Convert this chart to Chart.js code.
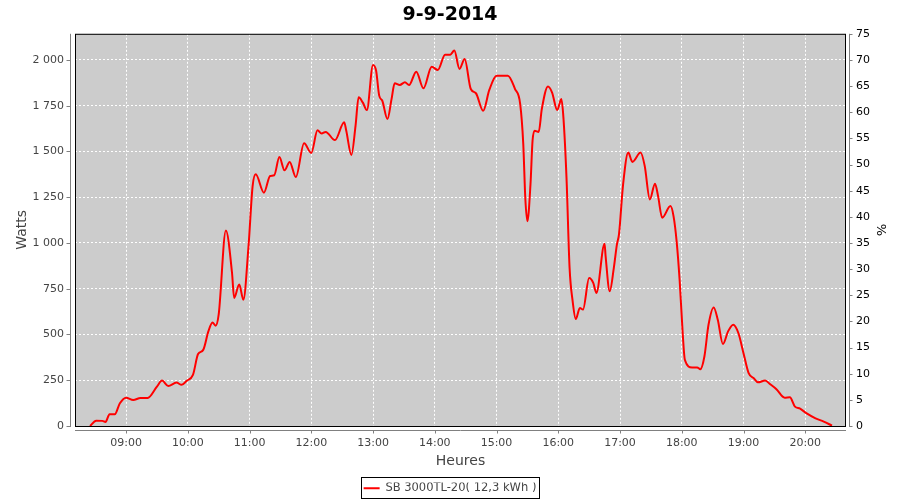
<!DOCTYPE html>
<html>
<head>
<meta charset="utf-8">
<script src="https://cdn.jsdelivr.net/npm/chart.js@4/dist/chart.umd.min.js"></script>
<style>
html, body { margin: 0; padding: 0; background: #fff; }
</style>
</head>
<body>
<canvas id="graphique" width="900" height="500"></canvas>
<script>
// Production SB 3000TL-20 du 9-9-2014
const titre = '9-9-2014';
const serie = 'SB 3000TL-20( 12,3 kWh )';
const heures = ['09:00', '10:00', '11:00', '12:00', '13:00', '14:00', '15:00', '16:00', '17:00', '18:00', '19:00', '20:00'];
const ticksWatts = [0, 250, 500, 750, 1000, 1250, 1500, 1750, 2000];
const ticksPct = [0, 5, 10, 15, 20, 25, 30, 35, 40, 45, 50, 55, 60, 65, 70, 75];

const temps = ['08:25','08:31','08:37','08:40','08:44','08:49','08:54','09:00','09:07','09:14',
  '09:21','09:30','09:35','09:41','09:49','09:54','09:59','10:05','10:10','10:15',
  '10:20','10:24','10:27','10:30','10:37','10:43','10:45','10:50','10:54','10:59',
  '11:03','11:06','11:14','11:20','11:24','11:29','11:34','11:39','11:45','11:53',
  '12:00','12:06','12:10','12:14','12:23','12:32','12:34','12:39','12:43','12:46',
  '12:50','12:54','13:00','13:03','13:06','13:09','13:14','13:18','13:21','13:26',
  '13:31','13:35','13:42','13:49','13:57','14:03','14:10','14:15','14:19','14:24',
  '14:29','14:35','14:40','14:47','14:53','15:00','15:11','15:18','15:23','15:26',
  '15:28','15:30','15:33','15:35','15:37','15:41','15:44','15:50','15:54','15:59',
  '16:03','16:05','16:08','16:11','16:14','16:17','16:21','16:24','16:30','16:34',
  '16:37','16:45','16:46','16:50','16:54','16:57','16:59','17:03','17:08','17:12',
  '17:20','17:24','17:29','17:34','17:37','17:41','17:49','17:52','17:55','17:58',
  '18:01','18:03','18:10','18:15','18:18','18:22','18:26','18:31','18:35','18:40',
  '18:45','18:50','18:55','19:00','19:05','19:10','19:14','19:21','19:26','19:32',
  '19:40','19:45','19:50','19:55','20:01','20:10','20:18','20:26'];

const watts = [0,29,28,22,64,64,124,155,142,153,
  153,215,248,219,237,225,247,279,393,416,
  517,566,548,608,1068,836,700,773,690,982,
  1311,1375,1275,1366,1370,1470,1397,1443,1360,1545,
  1492,1616,1598,1607,1562,1659,1613,1481,1640,1796,
  1768,1726,1973,1941,1805,1777,1677,1786,1872,1863,
  1878,1863,1936,1845,1963,1945,2029,2029,2051,1951,
  2005,1841,1818,1722,1836,1914,1914,1841,1759,1540,
  1242,1119,1320,1558,1613,1607,1731,1855,1822,1726,
  1786,1686,1357,864,681,584,645,636,809,782,
  727,996,928,736,864,992,1047,1320,1494,1443,
  1494,1421,1238,1324,1256,1138,1202,1147,1010,791,
  499,362,320,320,310,380,553,648,581,448,
  517,553,508,398,289,261,239,248,228,201,
  155,157,106,95,70,42,24,2];

const enMinutes = s => { const p = s.split(':'); return +p[0] * 60 + +p[1]; };
const enHeure = m => String(Math.floor(m / 60)).padStart(2, '0') + ':' + String(Math.round(m % 60)).padStart(2, '0');
const milliers = v => v >= 1000 ? Math.floor(v / 1000) + ' ' + String(v % 1000).padStart(3, '0') : String(v);

const points = temps.map((t, i) => ({ x: enMinutes(t), y: watts[i] }));

const gris = '#444444';
const police = 'DejaVu Sans, Tahoma, sans-serif';

// fond gris, cadre, axes décalés et cadre de la légende (style JFreeChart)
const cadre = {
  id: 'cadre',
  afterLayout(chart) {
    // descendre un peu la légende
    chart.legend.top += 4;
    chart.legend.bottom += 4;
  },
  beforeDraw(chart) {
    const { ctx, chartArea: a } = chart;
    ctx.save();
    ctx.fillStyle = '#fff';
    ctx.fillRect(0, 0, chart.width, chart.height);
    ctx.fillStyle = '#cccccc';
    ctx.fillRect(a.left, a.top, a.right - a.left, a.bottom - a.top);
    ctx.restore();
  },
  afterDraw(chart) {
    const { ctx, chartArea: a, scales } = chart;
    ctx.save();
    ctx.strokeStyle = '#000';
    ctx.lineWidth = 1;
    ctx.strokeRect(a.left + 0.5, a.top + 0.5, a.right - a.left - 1, a.bottom - a.top);

    ctx.strokeStyle = '#808080';
    ctx.beginPath();
    const xl = a.left - 4.5, xr = a.right + 3.5, yb = a.bottom + 4.5;
    ctx.moveTo(xl, a.top); ctx.lineTo(xl, a.bottom + 1);
    ctx.moveTo(xr, a.top); ctx.lineTo(xr, a.bottom + 1);
    ctx.moveTo(a.left, yb); ctx.lineTo(a.right, yb);
    scales.y.ticks.forEach(t => {
      const y = Math.round(scales.y.getPixelForValue(t.value)) + 0.5;
      ctx.moveTo(xl - 4, y); ctx.lineTo(xl, y);
    });
    scales.y2.ticks.forEach(t => {
      const y = Math.round(scales.y2.getPixelForValue(t.value)) + 0.5;
      ctx.moveTo(xr, y); ctx.lineTo(xr + 3, y);
    });
    scales.x.ticks.forEach(t => {
      const x = Math.round(scales.x.getPixelForValue(t.value)) + 0.5;
      ctx.moveTo(x, yb); ctx.lineTo(x, yb + 3);
    });
    ctx.stroke();

    const hb = chart.legend.legendHitBoxes[0];
    if (hb) {
      ctx.strokeStyle = '#000';
      ctx.strokeRect(Math.round(hb.left - 3) + 0.5, Math.round(hb.top - 6) + 0.5, Math.round(hb.width + 5), 21);
    }
    ctx.restore();
  }
};

new Chart(document.getElementById('graphique'), {
  type: 'line',
  data: {
    datasets: [{
      label: serie,
      data: points,
      borderColor: '#ff0000',
      backgroundColor: '#ff0000',
      borderWidth: 2,
      pointRadius: 0,
      cubicInterpolationMode: 'monotone',
      yAxisID: 'y'
    }]
  },
  options: {
    responsive: false,
    animation: false,
    layout: { padding: 0 },
    plugins: {
      title: {
        display: true,
        text: titre,
        color: '#000',
        font: { family: police, size: 19, weight: 'bold' },
        padding: { top: 4, bottom: 7 }
      },
      legend: {
        position: 'bottom',
        labels: {
          color: gris,
          font: { family: police, size: 11.5 },
          boxWidth: 16,
          boxHeight: 2,
          padding: 0,
          generateLabels: chart => [{
            text: serie,
            fillStyle: '#ff0000',
            strokeStyle: '#ff0000',
            lineWidth: 0,
            fontColor: gris,
            datasetIndex: 0
          }]
        }
      },
      tooltip: { enabled: false }
    },
    scales: {
      x: {
        type: 'linear',
        min: 490.4,
        max: 1239.6,
        afterBuildTicks: s => { s.ticks = heures.map(h => ({ value: enMinutes(h) })); },
        afterFit: s => { s.height = 500 - 426 - (s.chart.legend ? s.chart.legend.height : 21.5); },
        ticks: {
          color: gris,
          font: { family: police, size: 11 },
          padding: 11,
          maxRotation: 0,
          autoSkip: false,
          callback: v => enHeure(v)
        },
        grid: { color: '#ffffff', lineWidth: 1, drawTicks: false },
        border: { display: false, dash: [2, 2] },
        title: {
          display: true,
          text: 'Heures',
          color: gris,
          font: { family: police, size: 14 },
          padding: { top: 0, bottom: 9 }
        }
      },
      y: {
        type: 'linear',
        position: 'left',
        min: 0,
        max: 2000 * 75 / 70,
        afterBuildTicks: s => { s.ticks = ticksWatts.map(v => ({ value: v })); },
        afterFit: s => { s.width = 75; },
        ticks: {
          color: gris,
          font: { family: police, size: 11 },
          padding: 11,
          callback: v => milliers(v)
        },
        grid: { color: '#ffffff', lineWidth: 1, drawTicks: false },
        border: { display: false, dash: [2, 2] },
        title: {
          display: true,
          text: 'Watts',
          color: gris,
          font: { family: police, size: 14 },
          padding: { top: 14, bottom: 0 }
        }
      },
      y2: {
        type: 'linear',
        position: 'right',
        min: 0,
        max: 75,
        afterBuildTicks: s => { s.ticks = ticksPct.map(v => ({ value: v })); },
        afterFit: s => { s.width = 54; },
        ticks: {
          color: '#000',
          font: { family: police, size: 11 },
          padding: 10
        },
        grid: { drawOnChartArea: false, drawTicks: false },
        border: { display: false },
        title: {
          display: true,
          text: '%',
          color: '#000',
          font: { family: police, size: 13 },
          padding: { top: 12, bottom: 0 }
        }
      }
    }
  },
  plugins: [cadre]
});
</script>
</body>
</html>
